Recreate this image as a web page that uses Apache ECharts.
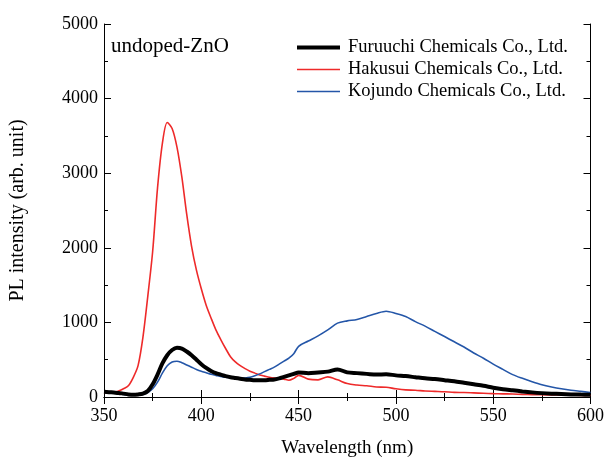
<!DOCTYPE html>
<html>
<head>
<meta charset="utf-8">
<script src="https://cdn.jsdelivr.net/npm/echarts@6/dist/echarts.min.js"></script>
<style>
html,body{margin:0;padding:0;background:#fff;}
#chart{width:607px;height:463px;}
</style>
</head>
<body>
<div id="chart"></div>
<script>
const wavelengths = [350,352.5,355,357.5,360,362.5,365,367.5,370,372.5,375,377.5,380,382.5,385,387.5,390,392.5,395,397.5,400,402.5,405,407.5,410,412.5,415,417.5,420,422.5,425,427.5,430,432.5,435,437.5,440,442.5,445,447.5,450,455,460,465,470,475,480,485,490,495,500,505,510,515,520,525,530,535,540,545,550,555,560,565,570,575,580,585,590,595,600];

const furuuchi = [70,65,60,55,45,35,30,35,45,80,170,300,450,560,630,660,650,610,560,500,440,390,350,320,300,280,265,255,245,235,230,225,225,225,230,235,250,270,290,310,330,320,330,340,370,330,320,310,300,305,290,280,265,250,240,225,210,190,170,150,125,105,90,75,62,52,45,40,35,32,30];

const hakusui = [60,55,60,80,110,150,260,420,800,1350,1950,2800,3400,3680,3600,3350,2950,2450,2020,1700,1450,1230,1060,900,770,650,540,470,420,380,345,320,295,280,265,255,250,240,225,250,290,240,230,270,230,180,160,150,135,130,110,95,90,80,75,70,62,60,55,50,45,42,40,35,32,30,28,26,25,22,20];

const kojundo = [70,65,55,45,35,30,25,25,35,60,110,200,320,420,470,480,460,430,400,370,345,325,305,290,275,265,260,255,250,255,265,285,310,340,370,400,440,480,520,580,680,750,820,900,990,1020,1040,1080,1120,1150,1120,1080,1010,950,880,810,740,670,590,520,440,370,300,250,205,165,135,110,90,75,60];

const seriesNames = ['Furuuchi Chemicals Co., Ltd.','Hakusui Chemicals Co., Ltd.','Kojundo Chemicals Co., Ltd.'];
const annotation = 'undoped-ZnO';
const xName = 'Wavelength (nm)';
const yName = 'PL intensity (arb. unit)';

const pair = arr => wavelengths.map((w,i)=>[w,arr[i]]);
const font = 'Liberation Serif';

const chart = echarts.init(document.getElementById('chart'));
const axisCommon = {
  axisLine:{show:true,lineStyle:{color:'#000',width:1}},
  axisTick:{show:true,inside:true,length:7,lineStyle:{color:'#000'}},
  minorTick:{show:true,splitNumber:2,length:4,lineStyle:{color:'#000'}},
  splitLine:{show:false},
};
const thick = 'path://M0,0H43V4H0Z';
const thin = 'path://M0,0H43V1.6H0Z';
chart.setOption({
  animation:false,
  backgroundColor:'#fff',
  grid:{left:99,right:14,top:24,bottom:61,containLabel:false},
  legend:{
    orient:'vertical',left:292,top:33,itemWidth:43,itemHeight:14,itemGap:3,
    symbolKeepAspect:true,
    textStyle:{fontFamily:font,fontSize:18.5,color:'#000',padding:[0,0,0,3]},
    data:[
      {name:seriesNames[0],icon:thick},
      {name:seriesNames[1],icon:thin},
      {name:seriesNames[2],icon:thin}
    ]
  },
  graphic:[{type:'text',left:111,top:36,style:{text:annotation,font:'21px "Liberation Serif"',fill:'#000'}}],
  xAxis:[
    Object.assign({type:'value',min:350,max:600,interval:50,position:'bottom',
      name:xName,nameLocation:'middle',nameGap:42,
      nameTextStyle:{fontFamily:font,fontSize:19,color:'#000'},
      axisLabel:{fontFamily:font,fontSize:18,color:'#000',margin:10}},axisCommon),
    Object.assign({type:'value',min:350,max:600,interval:50,position:'top',
      axisLabel:{show:false}},axisCommon)
  ],
  yAxis:[
    Object.assign({type:'value',min:0,max:5000,interval:1000,position:'left',
      name:yName,nameLocation:'middle',nameGap:76,
      nameTextStyle:{fontFamily:font,fontSize:20,color:'#000'},
      axisLabel:{fontFamily:font,fontSize:18,color:'#000',margin:6,formatter:v=>String(v)}},axisCommon),
    Object.assign({type:'value',min:0,max:5000,interval:1000,position:'right',
      axisLabel:{show:false}},axisCommon)
  ],
  series:[
    {name:seriesNames[0],type:'line',data:pair(furuuchi),showSymbol:false,smooth:0.3,
      lineStyle:{color:'#000',width:4},itemStyle:{color:'#000'},z:4},
    {name:seriesNames[1],type:'line',data:pair(hakusui),showSymbol:false,smooth:0.3,
      lineStyle:{color:'#ee2a2a',width:1.6},itemStyle:{color:'#ee2a2a'},z:3},
    {name:seriesNames[2],type:'line',data:pair(kojundo),showSymbol:false,smooth:0.3,
      lineStyle:{color:'#2456a8',width:1.6},itemStyle:{color:'#2456a8'},z:3}
  ]
});
</script>
</body>
</html>
